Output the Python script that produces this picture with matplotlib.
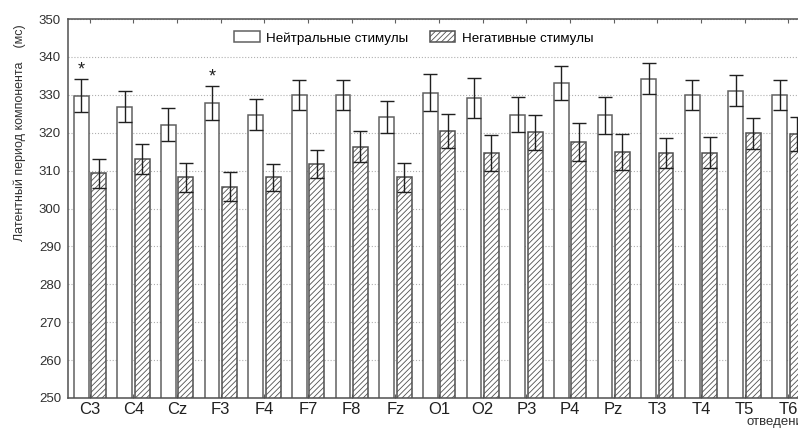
import numpy as np
import matplotlib.pyplot as plt

plt.rcParams['font.family'] = ['Liberation Sans', 'DejaVu Sans']
plt.rcParams['hatch.linewidth'] = 0.6

leads = ['C3', 'C4', 'Cz', 'F3', 'F4', 'F7', 'F8', 'Fz', 'O1', 'O2',
         'P3', 'P4', 'Pz', 'T3', 'T4', 'T5', 'T6']
neutral = [329.8, 326.9, 322.1, 327.8, 324.8, 329.9, 329.9, 324.1, 330.6,
           329.2, 324.8, 333.1, 324.6, 334.3, 330.0, 331.1, 330.0]
neutral_err = [4.3, 4.0, 4.3, 4.4, 4.0, 4.0, 4.0, 4.3, 5.0,
               5.3, 4.7, 4.6, 4.9, 4.0, 4.0, 4.0, 4.0]
negative = [309.3, 313.1, 308.2, 305.8, 308.2, 311.7, 316.3, 308.2, 320.5,
            314.7, 320.1, 317.6, 314.9, 314.7, 314.7, 319.8, 319.6]
negative_err = [3.8, 4.0, 3.9, 3.8, 3.6, 3.7, 4.1, 3.8, 4.5,
                4.7, 4.7, 5.0, 4.7, 3.9, 4.1, 4.0, 4.5]
star_leads = ['C3', 'F3']

fig = plt.figure(figsize=(7.98, 4.28), dpi=100)
ax = fig.add_axes([0.0852, 0.0701, 0.93, 0.8855])

x = np.arange(len(leads))
w = 0.34
ax.bar(x - 0.2, neutral, w, color='white', edgecolor='#606060',
       linewidth=1.1, label='Нейтральные стимулы', zorder=2)
ax.bar(x + 0.2, negative, w, color='white', edgecolor='#505050', hatch='//////',
       linewidth=1.1, label='Негативные стимулы', zorder=2)
ax.errorbar(x - 0.2, neutral, yerr=neutral_err, fmt='none', ecolor='#202020',
            elinewidth=1.0, capsize=5, capthick=1.0, zorder=3)
ax.errorbar(x + 0.2, negative, yerr=negative_err, fmt='none', ecolor='#202020',
            elinewidth=1.0, capsize=5, capthick=1.0, zorder=3)

for lead in star_leads:
    i = leads.index(lead)
    ax.text(x[i] - 0.2, neutral[i] + neutral_err[i] + 0.2, '*', ha='center',
            va='bottom', fontsize=13, color='#202020')

ax.set_ylim(250, 350)
ax.set_xlim(-0.5, len(leads) - 0.5)
ax.set_yticks(np.arange(250, 351, 10))
ax.set_xticks(x)
ax.set_xticklabels(leads, fontsize=12)
ax.tick_params(axis='y', labelsize=9.5, length=0, pad=5, colors='#303030')
ax.tick_params(axis='x', direction='in', top=True, length=3, color='#606060',
               pad=3, labelcolor='#202020')
ax.yaxis.grid(True, linestyle=':', color='#b0b0b0', linewidth=0.8, zorder=0)
ax.set_axisbelow(True)
for s in ax.spines.values():
    s.set_color('#505050')
    s.set_linewidth(1.1)

ax.set_ylabel('Латентный период компонента    (мс)', fontsize=9, color='#303030')
ax.yaxis.set_label_coords(-0.057, 0.70)
ax.set_xlabel('отведения', fontsize=9.5, color='#303030', loc='right', labelpad=-1)

ax.legend(loc='center', bbox_to_anchor=(0.466, 0.95), ncol=2, frameon=False,
          fontsize=9.6, handlelength=1.9, handleheight=0.9, columnspacing=1.6,
          handletextpad=0.5)

fig.savefig('out.png', dpi=100)
